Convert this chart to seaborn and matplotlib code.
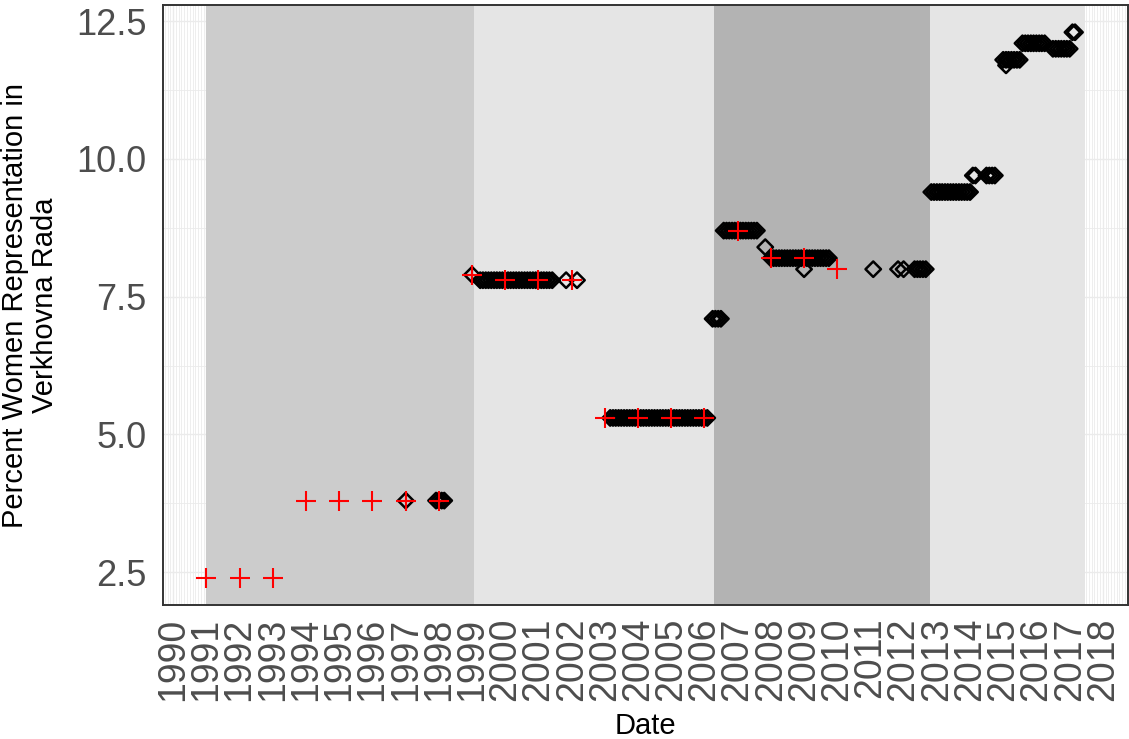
import matplotlib
matplotlib.use("Agg")
import matplotlib.pyplot as plt
import matplotlib.dates as mdates
import matplotlib.ticker as mticker
import seaborn as sns
import pandas as pd

# ---------------- data ----------------
# annual observations (red crosses)
cross_years = ["1991", "1992", "1993", "1994", "1995", "1996", "1997", "1998", "1999", "2000",
               "2001", "2002", "2003", "2004", "2005", "2006", "2007", "2008", "2009", "2010"]
cross_values = [2.4, 2.4, 2.4, 3.8, 3.8, 3.8, 3.8, 3.8, 7.9, 7.8,
                7.8, 7.8, 5.3, 5.3, 5.3, 5.3, 8.7, 8.2, 8.2, 8.0]

# monthly observations (open diamonds), grouped by value
dates_38 = ["1997-01", "1997-12", "1998-01", "1998-02", "1998-03"]
dates_79 = ["1999-01"]
dates_78 = ["1999-04", "1999-05", "1999-06", "1999-07", "1999-08", "1999-09", "1999-10",
            "1999-11", "1999-12", "2000-01", "2000-02", "2000-03", "2000-04", "2000-05",
            "2000-06", "2000-07", "2000-08", "2000-09", "2000-10", "2000-11", "2000-12",
            "2001-01", "2001-02", "2001-03", "2001-04", "2001-05", "2001-06",
            "2001-11", "2002-03"]
dates_53 = ["2003-03", "2003-04", "2003-05", "2003-06", "2003-07", "2003-08", "2003-09",
            "2003-10", "2003-11", "2003-12", "2004-01", "2004-02", "2004-03", "2004-04",
            "2004-05", "2004-06", "2004-07", "2004-08", "2004-09", "2004-10", "2004-11",
            "2004-12", "2005-01", "2005-02", "2005-03", "2005-04", "2005-05", "2005-06",
            "2005-07", "2005-08", "2005-09", "2005-10", "2005-11", "2005-12", "2006-01",
            "2006-02"]
dates_71 = ["2006-04", "2006-05", "2006-06", "2006-07"]
dates_87 = ["2006-08", "2006-09", "2006-10", "2006-11", "2006-12", "2007-01", "2007-02",
            "2007-03", "2007-04", "2007-05", "2007-06", "2007-07", "2007-08"]
dates_84 = ["2007-11"]
dates_82 = ["2008-01", "2008-02", "2008-03", "2008-04", "2008-05", "2008-06", "2008-07",
            "2008-08", "2008-09", "2008-10", "2008-11", "2008-12", "2009-01", "2009-02",
            "2009-03", "2009-04", "2009-05", "2009-06", "2009-07", "2009-08", "2009-09",
            "2009-10"]
dates_80 = ["2009-01", "2011-02", "2011-11", "2012-01", "2012-05", "2012-06", "2012-07",
            "2012-08", "2012-09"]
dates_94 = ["2012-11", "2012-12", "2013-01", "2013-02", "2013-03", "2013-04", "2013-05",
            "2013-06", "2013-07", "2013-08", "2013-09", "2013-10", "2013-11", "2013-12",
            "2014-01"]
dates_97 = ["2014-02", "2014-03", "2014-07", "2014-08", "2014-09", "2014-10"]
dates_117 = ["2015-02"]
dates_118 = ["2015-01", "2015-02", "2015-03", "2015-04", "2015-05", "2015-06", "2015-07"]
dates_121 = ["2015-08", "2015-09", "2015-10", "2015-11", "2015-12", "2016-01", "2016-02",
             "2016-03", "2016-04"]
dates_120 = ["2016-07", "2016-08", "2016-09", "2016-10", "2016-11", "2016-12", "2017-01"]
dates_123 = ["2017-02", "2017-03"]

diamond_groups = [(3.8, dates_38), (7.9, dates_79), (7.8, dates_78), (5.3, dates_53),
                  (7.1, dates_71), (8.7, dates_87), (8.4, dates_84), (8.2, dates_82),
                  (8.0, dates_80), (9.4, dates_94), (9.7, dates_97), (11.7, dates_117),
                  (11.8, dates_118), (12.1, dates_121), (12.0, dates_120), (12.3, dates_123)]

# shaded background periods
period_starts = ["1991-01-01", "1999-01-22", "2006-04-15", "2012-10-20"]
period_ends = ["1999-01-22", "2006-04-15", "2012-10-20", "2017-06-21"]
period_colors = ["#cccccc", "#e5e5e5", "#b3b3b3", "#e5e5e5"]

y_ticks = [2.5, 5.0, 7.5, 10.0, 12.5]

# ---------------- frames ----------------
cross_df = pd.DataFrame({"date": pd.to_datetime(cross_years, format="%Y"), "pct": cross_values})
rows = []
for val, ds in diamond_groups:
    for d in ds:
        rows.append({"date": pd.to_datetime(d, format="%Y-%m"), "pct": val})
diamond_df = pd.DataFrame(rows)

# ---------------- plot ----------------
sns.set_theme(style="white")
plt.rcParams["font.family"] = ["Liberation Sans", "DejaVu Sans"]

fig = plt.figure(figsize=(11.29, 7.39), dpi=100)
ax = fig.add_axes([163 / 1129, 1 - 605 / 739, (1128 - 163) / 1129, 600 / 739])
ax.set_facecolor("white")

for s, e, c in zip(period_starts, period_ends, period_colors):
    ax.axvspan(mdates.date2num(pd.Timestamp(s)), mdates.date2num(pd.Timestamp(e)),
               color=c, lw=0, zorder=1)

sns.scatterplot(data=diamond_df, x="date", y="pct", marker="D", s=62,
                color="black", facecolors="none", edgecolor="black", linewidth=1.8,
                ax=ax, zorder=3, legend=False)
ax.collections[-1].set_facecolor("none")

sns.scatterplot(data=cross_df, x="date", y="pct", marker="+", s=200,
                color="red", linewidth=1.5, ax=ax, zorder=4, legend=False)

ax.set_xlim(mdates.date2num(pd.Timestamp("1989-09-10")), mdates.date2num(pd.Timestamp("2018-10-05")))
ax.set_ylim(1.905, 12.795)

ax.xaxis.set_major_locator(mdates.YearLocator())
ax.xaxis.set_major_formatter(mdates.DateFormatter("%Y"))
ax.xaxis.set_minor_locator(mdates.MonthLocator())
ax.set_yticks(y_ticks)
ax.yaxis.set_major_formatter(mticker.FormatStrFormatter("%.1f"))
ax.yaxis.set_minor_locator(mticker.MultipleLocator(1.25))

ax.set_axisbelow(True)
ax.grid(which="major", color="#ebebeb", lw=1.0, zorder=0)
ax.grid(which="minor", color="#ebebeb", lw=0.6, zorder=0)

ax.tick_params(axis="both", which="major", length=5, width=1.3, color="#333333",
               labelcolor="#4d4d4d", labelsize=26, direction="out")
ax.tick_params(axis="x", which="major", labelrotation=90, pad=4, labelsize=27)
ax.tick_params(axis="y", which="major", pad=7)
ax.tick_params(which="minor", length=0)
for sp in ax.spines.values():
    sp.set_color("#333333")
    sp.set_linewidth(1.4)

ax.set_xlabel("Date", fontsize=21, color="black", labelpad=8)
ax.set_ylabel("Percent Women Representation in\nVerkhovna Rada", fontsize=21, color="black",
              labelpad=12, linespacing=1.1)

fig.savefig("out.png", dpi=100)
